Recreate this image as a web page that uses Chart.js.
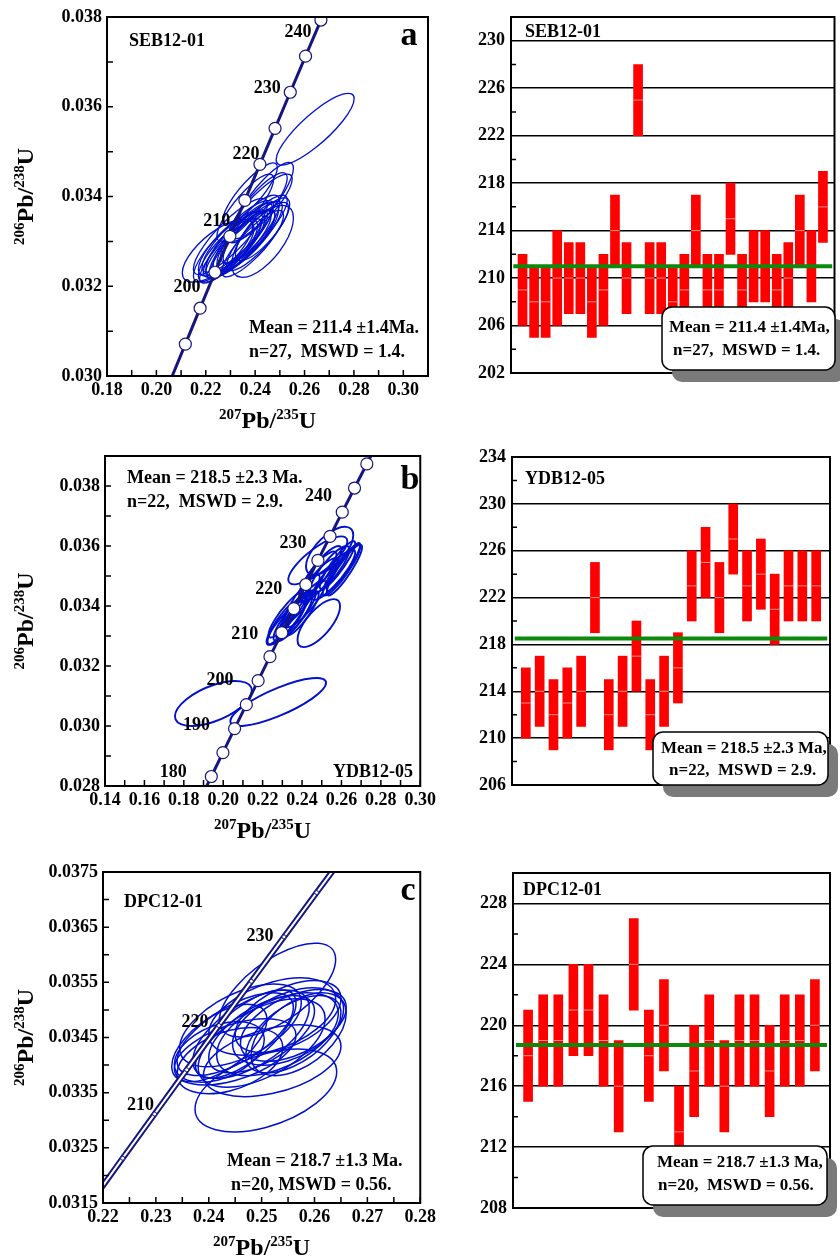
<!DOCTYPE html>
<html>
<head>
<meta charset="utf-8">
<script src="https://cdn.jsdelivr.net/npm/chart.js@4.4.1/dist/chart.umd.min.js"></script>
<style>
body { margin: 0; background: #fff; }
#page { position: relative; width: 840px; height: 1258px; overflow: hidden; }
canvas { position: absolute; }
</style>
</head>
<body>
<div id="page">
  <canvas id="concA" width="440" height="430" style="left:0;top:0"></canvas>
  <canvas id="barsA" width="370" height="430" style="left:470px;top:0"></canvas>
  <canvas id="concB" width="440" height="410" style="left:0;top:440px"></canvas>
  <canvas id="barsB" width="370" height="410" style="left:470px;top:440px"></canvas>
  <canvas id="concC" width="440" height="408" style="left:0;top:850px"></canvas>
  <canvas id="barsC" width="370" height="408" style="left:470px;top:850px"></canvas>
</div>
<script>
// concordia reference points (age in Ma, 207Pb/235U, 206Pb/238U)
const concAge = [175, 180, 185, 190, 195, 200, 205, 210, 215, 220, 225, 230, 235, 240, 245, 250];
const conc207 = [0.18809, 0.19396, 0.19985, 0.20577, 0.21173, 0.21771, 0.22372, 0.22976, 0.23583, 0.24193, 0.24806, 0.25422, 0.26041, 0.26664, 0.27289, 0.27917];
const conc206 = [0.027519, 0.028316, 0.029114, 0.029913, 0.030711, 0.031511, 0.032312, 0.033112, 0.033914, 0.034717, 0.035519, 0.036323, 0.037127, 0.037932, 0.038737, 0.039543];

// SEB12-01 error ellipses
const sebX = [0.2320, 0.2250, 0.2300, 0.2350, 0.2380, 0.2330, 0.2290, 0.2340, 0.2410, 0.2370, 0.2643, 0.2430, 0.2300, 0.2270, 0.2350, 0.2420, 0.2320, 0.2390, 0.2430, 0.2340, 0.2380, 0.2400, 0.2300, 0.2410, 0.2360, 0.2430, 0.2380];
const sebY = [0.03295, 0.03279, 0.03279, 0.03311, 0.03311, 0.03311, 0.03279, 0.03295, 0.03375, 0.03311, 0.03550, 0.03300, 0.03311, 0.03279, 0.03295, 0.03375, 0.03295, 0.03295, 0.03391, 0.03295, 0.03327, 0.03327, 0.03295, 0.03311, 0.03375, 0.03327, 0.03407];
const sebSx = [0.0130, 0.0145, 0.0125, 0.0120, 0.0130, 0.0145, 0.0120, 0.0125, 0.0120, 0.0125, 0.0158, 0.0125, 0.0150, 0.0120, 0.0130, 0.0130, 0.0120, 0.0125, 0.0125, 0.0140, 0.0120, 0.0130, 0.0130, 0.0125, 0.0115, 0.0110, 0.0110];
const sebSy = [0.00075, 0.00070, 0.00072, 0.00075, 0.00078, 0.00080, 0.00070, 0.00074, 0.00078, 0.00076, 0.00080, 0.00080, 0.00085, 0.00070, 0.00074, 0.00075, 0.00072, 0.00074, 0.00085, 0.00076, 0.00076, 0.00076, 0.00072, 0.00076, 0.00075, 0.00070, 0.00068];
const sebRho = [0.85, 0.7, 0.85, 0.85, 0.85, 0.85, 0.8, 0.85, 0.85, 0.8, 0.85, 0.65, 0.85, 0.8, 0.85, 0.85, 0.8, 0.85, 0.85, 0.85, 0.8, 0.85, 0.8, 0.85, 0.85, 0.8, 0.85];
// SEB12-01 206Pb/238U ages (Ma), low and high ends of each bar
const sebLo = [206, 205, 205, 206, 207, 207, 205, 206, 211, 207, 222, 207, 207, 205, 206, 211, 206, 206, 212, 206, 208, 208, 206, 207, 211, 208, 213];
const sebHi = [212, 211, 211, 214, 213, 213, 211, 212, 217, 213, 228, 213, 213, 211, 212, 217, 212, 212, 218, 212, 214, 214, 212, 213, 217, 214, 219];
const sebMean = 211.0;

// YDB12-05 error ellipses (last two are off the mean)
const ydbX = [0.2340, 0.2380, 0.2300, 0.2360, 0.2400, 0.2480, 0.2485, 0.2330, 0.2400, 0.2320, 0.2360, 0.2420, 0.2540, 0.2480, 0.2560, 0.2540, 0.2600, 0.2580, 0.2490, 0.2615, 0.2610, 0.2500, 0.1950, 0.2279];
const ydbY = [0.03359, 0.03375, 0.03343, 0.03359, 0.03375, 0.03504, 0.03343, 0.03375, 0.03424, 0.03343, 0.03375, 0.03408, 0.03520, 0.03552, 0.03504, 0.03584, 0.03520, 0.03536, 0.03488, 0.03520, 0.03530, 0.03520, 0.03075, 0.03080];
const ydbSx = [0.0085, 0.0090, 0.0080, 0.0090, 0.0085, 0.0095, 0.0108, 0.0100, 0.0090, 0.0095, 0.0080, 0.0100, 0.0100, 0.0150, 0.0110, 0.0120, 0.0095, 0.0090, 0.0095, 0.0090, 0.0085, 0.0100, 0.0195, 0.0243];
const ydbSy = [0.00075, 0.00078, 0.00072, 0.00076, 0.00074, 0.00078, 0.00080, 0.00080, 0.00080, 0.00072, 0.00074, 0.00078, 0.00080, 0.00080, 0.00084, 0.00080, 0.00085, 0.00080, 0.00072, 0.00085, 0.00080, 0.00080, 0.00075, 0.00080];
const ydbRho = [0.88, 0.88, 0.88, 0.88, 0.88, 0.85, 0.7, 0.88, 0.88, 0.85, 0.88, 0.88, 0.85, 0.8, 0.88, 0.65, 0.9, 0.9, 0.85, 0.9, 0.92, 0.85, 0.57, 0.8];
const ydbLo = [210, 211, 209, 210, 211, 219, 209, 211, 214, 209, 211, 213, 220, 222, 219, 224, 220, 221, 218, 220, 220, 220];
const ydbHi = [216, 217, 215, 216, 217, 225, 215, 217, 220, 215, 217, 219, 226, 228, 225, 230, 226, 227, 224, 226, 226, 226];
const ydbMean = 218.5;

// DPC12-01 error ellipses
const dpcX = [0.2500, 0.2480, 0.2530, 0.2520, 0.2550, 0.2450, 0.2440, 0.2530, 0.2420, 0.2560, 0.2508, 0.2420, 0.2560, 0.2520, 0.2500, 0.2570, 0.2450, 0.2470, 0.2550, 0.2460];
const dpcY = [0.03440, 0.03456, 0.03456, 0.03488, 0.03488, 0.03456, 0.03408, 0.03536, 0.03440, 0.03472, 0.03354, 0.03424, 0.03456, 0.03408, 0.03456, 0.03456, 0.03424, 0.03456, 0.03470, 0.03472];
const dpcSx = [0.0120, 0.0110, 0.0115, 0.0120, 0.0100, 0.0110, 0.0100, 0.0110, 0.0090, 0.0100, 0.0134, 0.0085, 0.0090, 0.0130, 0.0100, 0.0090, 0.0115, 0.0095, 0.0105, 0.0115];
const dpcSy = [0.00080, 0.00080, 0.00075, 0.00070, 0.00065, 0.00075, 0.00060, 0.00085, 0.00070, 0.00065, 0.00075, 0.00055, 0.00070, 0.00065, 0.00070, 0.00075, 0.00060, 0.00080, 0.00070, 0.00075];
const dpcRho = [0.55, 0.6, 0.5, 0.45, 0.5, 0.65, 0.4, 0.65, 0.6, 0.5, 0.45, 0.4, 0.55, 0.4, 0.6, 0.5, 0.5, 0.7, 0.45, 0.55];
const dpcLo = [215, 216, 216, 218, 218, 216, 213, 221, 215, 217, 210, 214, 216, 213, 216, 216, 214, 216, 216, 217];
const dpcHi = [221, 222, 222, 224, 224, 222, 219, 227, 221, 223, 216, 220, 222, 219, 222, 222, 220, 222, 222, 223];
const dpcMean = 218.7;

const FONT = '"Liberation Serif", "Times New Roman", serif';
const NAVY = '#15157e';
const BLUE = '#0010cc';

function onGrid(v, base, step) {
    const k = (v - base) / step;
    return Math.abs(k - Math.round(k)) < 1e-6;
}

// error ellipses, drawn through the chart's scales
function ellipseLayer(e, width) {
    return {
        id: 'ellipses',
        beforeDatasetsDraw(chart) {
            const { ctx, chartArea: a, scales: { x, y } } = chart;
            ctx.save();
            ctx.beginPath();
            ctx.rect(a.left, a.top, a.right - a.left, a.bottom - a.top);
            ctx.clip();
            ctx.strokeStyle = BLUE;
            ctx.lineWidth = width;
            e.x.forEach((cxv, i) => {
                const cx = x.getPixelForValue(cxv), cy = y.getPixelForValue(e.y[i]);
                const r = e.rho[i];
                const ux = x.getPixelForValue(cxv + e.sx[i]) - cx;
                const uy = y.getPixelForValue(e.y[i] + r * e.sy[i]) - cy;
                const vy = y.getPixelForValue(e.y[i] + e.sy[i] * Math.sqrt(1 - r * r)) - cy;
                ctx.beginPath();
                ctx.save();
                ctx.transform(ux, uy, 0, vy, cx, cy);
                ctx.arc(0, 0, 1, 0, Math.PI * 2);
                ctx.restore();
                ctx.stroke();
            });
            ctx.restore();
        }
    };
}

function drawRatio(ctx, cx, cy, rot, sup1, sup2) {
    const big = 'bold 24px ' + FONT, small = 'bold 15px ' + FONT;
    const parts = [[sup1, small, -9], ['Pb/', big, 0], [sup2, small, -9], ['U', big, 0]];
    ctx.save();
    ctx.translate(cx, cy);
    ctx.rotate(rot);
    ctx.textAlign = 'left';
    ctx.textBaseline = 'alphabetic';
    let w = 0;
    parts.forEach(p => { ctx.font = p[1]; w += ctx.measureText(p[0]).width; });
    let px = -w / 2;
    parts.forEach(p => {
        ctx.font = p[1];
        ctx.fillText(p[0], px, 8 + p[2]);
        px += ctx.measureText(p[0]).width;
    });
    ctx.restore();
}

// frame, inner tick marks, notes and titles
function decor(cfg) {
    return {
        id: 'decor',
        afterDraw(chart) {
            const { ctx, chartArea: a, scales } = chart;
            ctx.save();
            ctx.strokeStyle = '#000';
            ctx.fillStyle = '#000';
            ctx.lineWidth = 1.5;
            ctx.beginPath();
            if (cfg.xTicks) {
                scales.x.ticks.forEach(t => {
                    const p = scales.x.getPixelForValue(t.value);
                    ctx.moveTo(p, a.bottom);
                    ctx.lineTo(p, a.bottom - 6);
                });
            }
            if (cfg.yTicks) {
                scales.y.ticks.forEach(t => {
                    if (cfg.yTicks === 'minor' && t.label !== '') return;
                    const p = scales.y.getPixelForValue(t.value);
                    ctx.moveTo(a.left, p);
                    ctx.lineTo(a.left + (cfg.yTicks === 'minor' ? 5 : 6), p);
                });
            }
            ctx.stroke();
            ctx.lineWidth = 2;
            ctx.strokeRect(a.left, a.top, a.right - a.left, a.bottom - a.top);

            if (cfg.ages) {
                ctx.font = 'bold 18px ' + FONT;
                ctx.textAlign = 'center';
                ctx.textBaseline = 'middle';
                cfg.ages.forEach((t, k) => {
                    const i = concAge.indexOf(t);
                    const px = scales.x.getPixelForValue(conc207[i]) + cfg.ageDx[k];
                    const py = scales.y.getPixelForValue(conc206[i]) + cfg.ageDy[k];
                    ctx.fillText(String(t), px, py);
                });
            }

            if (cfg.note) {
                const n = cfg.note;
                ctx.fillStyle = '#7a7a7a';
                ctx.beginPath();
                ctx.roundRect(n.x + 10, n.y + 12, n.w, n.h, 10);
                ctx.fill();
                ctx.fillStyle = '#fff';
                ctx.strokeStyle = '#000';
                ctx.lineWidth = 1.5;
                ctx.beginPath();
                ctx.roundRect(n.x, n.y, n.w, n.h, 10);
                ctx.fill();
                ctx.stroke();
                ctx.fillStyle = '#000';
            }

            (cfg.texts || []).forEach(t => {
                ctx.font = 'bold ' + (t.size || 18) + 'px ' + FONT;
                ctx.textAlign = t.align || 'left';
                ctx.textBaseline = 'middle';
                ctx.fillText(t.text, t.x, t.y);
            });

            if (cfg.ratios) {
                drawRatio(ctx, 25, (a.top + a.bottom) / 2, -Math.PI / 2, '206', '238');
                drawRatio(ctx, (a.left + a.right) / 2, a.bottom + 44, 0, '207', '235');
            }
            ctx.restore();
        }
    };
}

function tickFont() {
    return { family: FONT, size: 18, weight: 'bold' };
}

function concordiaChart(id, c) {
    const el = document.getElementById(id);
    const W = el.width, H = el.height, a = c.area;
    const line = concAge.map((t, i) => ({ x: conc207[i], y: conc206[i] }));
    const marks = c.marks.map(t => {
        const i = concAge.indexOf(t);
        return { x: conc207[i], y: conc206[i] };
    });
    const datasets = [];
    if (c.double) {
        datasets.push({ data: line, showLine: true, borderColor: NAVY, borderWidth: 6, pointRadius: 0, clip: 0, order: 3 });
        datasets.push({ data: line, showLine: true, borderColor: '#fff', borderWidth: 2, pointRadius: 0, clip: 0, order: 2 });
        datasets.push({ data: marks, showLine: false, pointRadius: 2, pointBackgroundColor: '#fff', pointBorderColor: NAVY, pointBorderWidth: 1, clip: 0, order: 1 });
    } else {
        datasets.push({ data: line, showLine: true, borderColor: NAVY, borderWidth: 3, pointRadius: 0, clip: 0, order: 2 });
        datasets.push({ data: marks, showLine: false, pointRadius: 6, pointBackgroundColor: '#fff', pointBorderColor: NAVY, pointBorderWidth: 1.2, clip: 0, order: 1 });
    }
    return new Chart(el, {
        type: 'scatter',
        data: { datasets: datasets },
        options: {
            responsive: false,
            animation: false,
            devicePixelRatio: 1,
            layout: { padding: { top: a.top, right: W - a.right, left: 0, bottom: 0 } },
            plugins: { legend: { display: false }, tooltip: { enabled: false } },
            scales: {
                x: {
                    type: 'linear', min: c.xMin, max: c.xMax,
                    afterFit: s => { s.height = H - a.bottom; },
                    grid: { display: false, drawTicks: false },
                    border: { display: false },
                    ticks: {
                        stepSize: c.xStep, maxTicksLimit: 100, autoSkip: false, maxRotation: 0,
                        padding: 4, color: '#000', font: tickFont(),
                        callback: v => onGrid(v, c.xMin, c.xLabelStep) ? v.toFixed(c.xDec) : ''
                    }
                },
                y: {
                    type: 'linear', min: c.yMin, max: c.yMax,
                    afterFit: s => { s.width = a.left; },
                    grid: { display: false, drawTicks: false },
                    border: { display: false },
                    ticks: {
                        stepSize: c.yStep, maxTicksLimit: 100, autoSkip: false,
                        padding: 5, color: '#000', font: tickFont(),
                        callback: v => onGrid(v, c.yMin, c.yLabelStep) ? v.toFixed(c.yDec) : ''
                    }
                }
            }
        },
        plugins: [ellipseLayer(c.ellipses, c.ellipseWidth), decor({
            xTicks: true, yTicks: true, ratios: true,
            ages: c.ages, ageDx: c.ageDx, ageDy: c.ageDy, texts: c.texts
        })]
    });
}

function barChart(id, c) {
    const el = document.getElementById(id);
    const W = el.width, H = el.height, a = c.area;
    const n = c.lo.length;
    const bars = c.lo.map((v, i) => ({ x: i + 1, y: [v, c.hi[i]] }));
    const mids = c.lo.map((v, i) => ({ x: i + 1, y: (v + c.hi[i]) / 2 }));
    return new Chart(el, {
        type: 'bar',
        data: {
            datasets: [
                { type: 'bar', data: bars, backgroundColor: '#ff0000', borderWidth: 0, barThickness: 9, order: 3 },
                { type: 'line', data: mids, showLine: false, pointStyle: 'line', pointRadius: 4.5,
                  pointBorderColor: '#ff8f8f', pointBorderWidth: 1, order: 2 },
                { type: 'line', data: [{ x: 0.2, y: c.mean }, { x: n + 0.8, y: c.mean }],
                  borderColor: '#0b8a0b', borderWidth: 4, pointRadius: 0, order: 1 }
            ]
        },
        options: {
            responsive: false,
            animation: false,
            devicePixelRatio: 1,
            layout: { padding: { top: a.top, right: W - a.right, left: 0, bottom: H - a.bottom } },
            plugins: { legend: { display: false }, tooltip: { enabled: false } },
            scales: {
                x: { type: 'linear', min: 0, max: n + 1, offset: false, display: false },
                y: {
                    type: 'linear', min: c.yMin, max: c.yMax,
                    afterFit: s => { s.width = a.left; },
                    border: { display: false },
                    grid: {
                        drawTicks: false, lineWidth: 1.5,
                        color: ctx => {
                            const v = ctx.tick ? ctx.tick.value : c.yMin;
                            return ((v - c.yMin) % 4 === 0 && v !== c.yMin && v !== c.yMax) ? '#000' : 'rgba(0,0,0,0)';
                        }
                    },
                    ticks: {
                        stepSize: 2, maxTicksLimit: 100, autoSkip: false,
                        padding: 6, color: '#000', font: tickFont(),
                        callback: v => ((v - c.yMin) % 4 === 0 ? String(v) : '')
                    }
                }
            }
        },
        plugins: [decor({ yTicks: 'minor', note: c.note, texts: c.texts })]
    });
}

concordiaChart('concA', {
    area: { left: 107, top: 17, right: 428, bottom: 376 },
    xMin: 0.18, xMax: 0.31, xStep: 0.01, xLabelStep: 0.02, xDec: 2,
    yMin: 0.030, yMax: 0.038, yStep: 0.001, yLabelStep: 0.002, yDec: 3,
    ellipses: { x: sebX, y: sebY, sx: sebSx, sy: sebSy, rho: sebRho }, ellipseWidth: 1.3,
    marks: [195, 200, 205, 210, 215, 220, 225, 230, 235, 240],
    ages: [200, 210, 220, 230, 240], ageDx: [-13, -13, -14, -23, -23], ageDy: [-21, -15, -10, -4, 12],
    texts: [
        { text: 'SEB12-01', x: 129, y: 41 },
        { text: 'a', x: 409, y: 36, size: 34, align: 'center' },
        { text: 'Mean = 211.4 ±1.4Ma.', x: 249, y: 328 },
        { text: 'n=27,  MSWD = 1.4.', x: 249, y: 352 }
    ]
});

concordiaChart('concB', {
    area: { left: 105, top: 16, right: 427, bottom: 346 },
    xMin: 0.14, xMax: 0.30, xStep: 0.01, xLabelStep: 0.02, xDec: 2,
    yMin: 0.028, yMax: 0.039, yStep: 0.001, yLabelStep: 0.002, yDec: 3,
    ellipses: { x: ydbX, y: ydbY, sx: ydbSx, sy: ydbSy, rho: ydbRho }, ellipseWidth: 1.9,
    marks: [180, 185, 190, 195, 200, 205, 210, 215, 220, 225, 230, 235, 240, 245],
    ages: [180, 190, 200, 210, 220, 230, 240], ageDx: [-38, -38, -38, -37, -37, -37, -36], ageDy: [-4, -3, 0, 2, 5, 7, 8],
    texts: [
        { text: 'Mean = 218.5 ±2.3 Ma.', x: 127, y: 38 },
        { text: 'n=22,  MSWD = 2.9.', x: 127, y: 62 },
        { text: 'b', x: 410, y: 40, size: 34, align: 'center' },
        { text: 'YDB12-05', x: 333, y: 332 }
    ]
});

concordiaChart('concC', {
    area: { left: 103, top: 22, right: 427, bottom: 353 },
    xMin: 0.22, xMax: 0.28, xStep: 0.005, xLabelStep: 0.01, xDec: 2,
    yMin: 0.0315, yMax: 0.0375, yStep: 0.0005, yLabelStep: 0.001, yDec: 4,
    ellipses: { x: dpcX, y: dpcY, sx: dpcSx, sy: dpcSy, rho: dpcRho }, ellipseWidth: 1.5,
    double: true,
    marks: [205, 210, 215, 220, 225, 230, 235],
    ages: [210, 220, 230], ageDx: [-14, -24, -24], ageDy: [-9, -3, -1],
    texts: [
        { text: 'DPC12-01', x: 124, y: 52 },
        { text: 'c', x: 408, y: 41, size: 34, align: 'center' },
        { text: 'Mean = 218.7 ±1.3 Ma.', x: 227, y: 311 },
        { text: 'n=20, MSWD = 0.56.', x: 231, y: 335 }
    ]
});

barChart('barsA', {
    area: { left: 41, top: 17, right: 368, bottom: 373 },
    lo: sebLo, hi: sebHi, mean: sebMean, yMin: 202, yMax: 232,
    note: { x: 192, y: 307, w: 173, h: 63 },
    texts: [
        { text: 'SEB12-01', x: 55, y: 32 },
        { text: 'Mean = 211.4 ±1.4Ma,', x: 199, y: 328, size: 17 },
        { text: 'n=27,  MSWD = 1.4.', x: 203, y: 351, size: 17 }
    ]
});

barChart('barsB', {
    area: { left: 42, top: 17, right: 360, bottom: 345 },
    lo: ydbLo, hi: ydbHi, mean: ydbMean, yMin: 206, yMax: 234,
    note: { x: 183, y: 292, w: 175, h: 53 },
    texts: [
        { text: 'YDB12-05', x: 55, y: 39 },
        { text: 'Mean = 218.5 ±2.3 Ma,', x: 191, y: 309, size: 17 },
        { text: 'n=22,  MSWD = 2.9.', x: 199, y: 331, size: 17 }
    ]
});

barChart('barsC', {
    area: { left: 43, top: 23, right: 360, bottom: 358 },
    lo: dpcLo, hi: dpcHi, mean: dpcMean, yMin: 208, yMax: 230,
    note: { x: 173, y: 296, w: 184, h: 59 },
    texts: [
        { text: 'DPC12-01', x: 53, y: 40 },
        { text: 'Mean = 218.7 ±1.3 Ma,', x: 187, y: 313, size: 17 },
        { text: 'n=20,  MSWD = 0.56.', x: 188, y: 336, size: 17 }
    ]
});
</script>
</body>
</html>
